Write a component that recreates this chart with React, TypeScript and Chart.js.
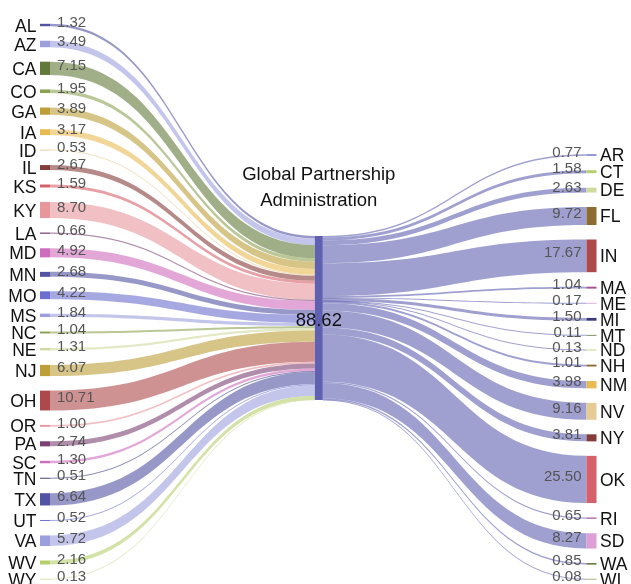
import React, { useEffect, useRef } from "react";
import { Chart, registerables } from "chart.js";

Chart.register(...registerables);

// ---------------- data ----------------
const centerLabel = ["Global Partnership", "Administration"];
const centerTotal = 88.62;

const sourceStates = ["AL", "AZ", "CA", "CO", "GA", "IA", "ID", "IL", "KS", "KY", "LA", "MD", "MN", "MO", "MS", "NC", "NE", "NJ", "OH", "OR", "PA", "SC", "TN", "TX", "UT", "VA", "WV", "WY"];
const sourceValues = [1.32, 3.49, 7.15, 1.95, 3.89, 3.17, 0.53, 2.67, 1.59, 8.70, 0.66, 4.92, 2.68, 4.22, 1.84, 1.04, 1.31, 6.07, 10.71, 1.00, 2.74, 1.30, 0.51, 6.64, 0.52, 5.72, 2.16, 0.13];
const sourceColors = ["#5254a3", "#9c9ede", "#637939", "#8ca252", "#bd9e39", "#e7ba52", "#e7cb94", "#843c39", "#d6616b", "#e7969c", "#7b4173", "#ce6dbd", "#5254a3", "#6b6ecf", "#9c9ede", "#8ca252", "#cedb9c", "#bd9e39", "#ad494a", "#e7969c", "#7b4173", "#ce6dbd", "#393b79", "#5254a3", "#6b6ecf", "#9c9ede", "#b5cf6b", "#cedb9c"];

const targetStates = ["AR", "CT", "DE", "FL", "IN", "MA", "ME", "MI", "MT", "ND", "NH", "NM", "NV", "NY", "OK", "RI", "SD", "WA", "WI"];
const targetValues = [0.77, 1.58, 2.63, 9.72, 17.67, 1.04, 0.17, 1.50, 0.11, 0.13, 1.01, 3.98, 9.16, 3.81, 25.50, 0.65, 8.27, 0.85, 0.08];
const targetColors = ["#6b6ecf", "#b5cf6b", "#cedb9c", "#8c6d31", "#ad494a", "#a55194", "#de9ed6", "#393b79", "#637939", "#b5cf6b", "#8c6d31", "#e7ba52", "#e7cb94", "#843c39", "#d6616b", "#a55194", "#de9ed6", "#637939", "#8ca252"];

// ---------------- layout / style ----------------
const W = 631;
const H = 584;
const PX_PER_UNIT = 1.85;
const Y_MAX = H / PX_PER_UNIT; // value units over full height
const GAP = 14.5 / PX_PER_UNIT; // gap between nodes in value units
const LEFT_TOP = 23.8 / PX_PER_UNIT;
const RIGHT_TOP = 154.3 / PX_PER_UNIT;
const CENTER_TOP = 236 / PX_PER_UNIT;

const LEFT_X0 = 40, LEFT_X1 = 50;
const CENTER_X0 = 314.8, CENTER_X1 = 322.8;
const RIGHT_X0 = 586.5, RIGHT_X1 = 596.5;

const CENTER_COLOR = "#5f61b0";
const LINK_ALPHA = 0.6;
const FONT = "'Liberation Sans', Arial, Helvetica, sans-serif";

function hexToRgba(hex: string, a: number) {
  const h = hex.replace("#", "");
  const r = parseInt(h.slice(0, 2), 16);
  const g = parseInt(h.slice(2, 4), 16);
  const b = parseInt(h.slice(4, 6), 16);
  return `rgba(${r},${g},${b},${a})`;
}

function stack(values: number[], top: number, gap: number) {
  let cur = top;
  return values.map((v) => {
    const n = { y0: cur, y1: cur + v };
    cur += v + gap;
    return n;
  });
}

function ribbon(
  ctx: CanvasRenderingContext2D,
  x0: number, a0: number, a1: number,
  x1: number, b0: number, b1: number
) {
  const minW = 1;
  if (a1 - a0 < minW) { const m = (a0 + a1) / 2; a0 = m - minW / 2; a1 = m + minW / 2; }
  if (b1 - b0 < minW) { const m = (b0 + b1) / 2; b0 = m - minW / 2; b1 = m + minW / 2; }
  const xm = (x0 + x1) / 2;
  ctx.beginPath();
  ctx.moveTo(x0, a0);
  ctx.bezierCurveTo(xm, a0, xm, b0, x1, b0);
  ctx.lineTo(x1, b1);
  ctx.bezierCurveTo(xm, b1, xm, a1, x0, a1);
  ctx.closePath();
  ctx.fill();
}

const sankeyPlugin = {
  id: "sankeyPlugin",
  afterDatasetsDraw(chart: any) {
    const ctx: CanvasRenderingContext2D = chart.ctx;
    const xs = chart.scales.x;
    const ys = chart.scales.y;
    const px = (v: number) => xs.getPixelForValue(v);
    const py = (v: number) => ys.getPixelForValue(v);

    const leftNodes = stack(sourceValues, LEFT_TOP, GAP);
    const rightNodes = stack(targetValues, RIGHT_TOP, GAP);
    const centerIn = stack(sourceValues, CENTER_TOP, 0);
    const centerOut = stack(targetValues, CENTER_TOP, 0);
    const centerEnd = CENTER_TOP + sourceValues.reduce((s, v) => s + v, 0);

    ctx.save();
    // links left -> center
    sourceValues.forEach((_, i) => {
      ctx.fillStyle = hexToRgba(sourceColors[i], LINK_ALPHA);
      ribbon(ctx, px(LEFT_X1), py(leftNodes[i].y0), py(leftNodes[i].y1),
        px(CENTER_X0), py(centerIn[i].y0), py(centerIn[i].y1));
    });
    // links center -> right
    targetValues.forEach((_, i) => {
      ctx.fillStyle = hexToRgba(CENTER_COLOR, LINK_ALPHA);
      ribbon(ctx, px(CENTER_X1), py(centerOut[i].y0), py(centerOut[i].y1),
        px(RIGHT_X0), py(rightNodes[i].y0), py(rightNodes[i].y1));
    });

    // nodes
    const rectNode = (x0: number, x1: number, y0: number, y1: number, color: string) => {
      let top = py(y0), bot = py(y1);
      if (bot - top < 0.8) { const m = (top + bot) / 2; top = m - 0.4; bot = m + 0.4; }
      ctx.fillStyle = color;
      ctx.fillRect(px(x0), top, px(x1) - px(x0), bot - top);
    };
    leftNodes.forEach((n, i) => rectNode(LEFT_X0, LEFT_X1, n.y0, n.y1, sourceColors[i]));
    rightNodes.forEach((n, i) => rectNode(RIGHT_X0, RIGHT_X1, n.y0, n.y1, targetColors[i]));
    rectNode(CENTER_X0, CENTER_X1, CENTER_TOP, centerEnd, CENTER_COLOR);

    // labels
    ctx.textBaseline = "alphabetic";
    leftNodes.forEach((n, i) => {
      const c = py((n.y0 + n.y1) / 2);
      ctx.font = `17.5px ${FONT}`;
      ctx.fillStyle = "#111";
      ctx.textAlign = "right";
      ctx.fillText(sourceStates[i], px(36.5), c + 6.6);
      ctx.font = `15px ${FONT}`;
      ctx.fillStyle = "#555";
      ctx.textAlign = "left";
      ctx.fillText(sourceValues[i].toFixed(2), px(57), c + 1.8);
    });
    rightNodes.forEach((n, i) => {
      const c = py((n.y0 + n.y1) / 2);
      ctx.font = `17.5px ${FONT}`;
      ctx.fillStyle = "#111";
      ctx.textAlign = "left";
      ctx.fillText(targetStates[i], px(600), c + 6.4);
      ctx.font = `15px ${FONT}`;
      ctx.fillStyle = "#555";
      ctx.textAlign = "right";
      ctx.fillText(targetValues[i].toFixed(2), px(581.5), c + 1.6);
    });

    const cx = (px(CENTER_X0) + px(CENTER_X1)) / 2;
    ctx.font = `18.5px ${FONT}`;
    ctx.fillStyle = "#111";
    ctx.textAlign = "center";
    ctx.fillText(centerLabel[0], cx, py(CENTER_TOP) - 56);
    ctx.fillText(centerLabel[1], cx, py(CENTER_TOP) - 30.5);
    const cc = (py(CENTER_TOP) + py(centerEnd)) / 2;
    ctx.fillText(centerTotal.toFixed(2), cx, cc + 8.5);
    ctx.restore();
  },
};

export default function App() {
  const ref = useRef<HTMLCanvasElement | null>(null);
  useEffect(() => {
    if (!ref.current) return;
    const chart = new Chart(ref.current, {
      type: "scatter",
      data: { datasets: [{ data: [], pointRadius: 0 }] },
      options: {
        animation: false,
        responsive: true,
        maintainAspectRatio: false,
        layout: { padding: 0 },
        plugins: { legend: { display: false }, tooltip: { enabled: false } },
        scales: {
          x: { type: "linear", min: 0, max: W, display: false },
          y: { type: "linear", min: 0, max: Y_MAX, reverse: true, display: false },
        },
      },
      plugins: [sankeyPlugin],
    });
    return () => chart.destroy();
  }, []);
  return (
    <div style={{ position: "fixed", left: 0, top: 0, width: W, height: H, background: "#fff" }}>
      <canvas ref={ref} />
    </div>
  );
}
